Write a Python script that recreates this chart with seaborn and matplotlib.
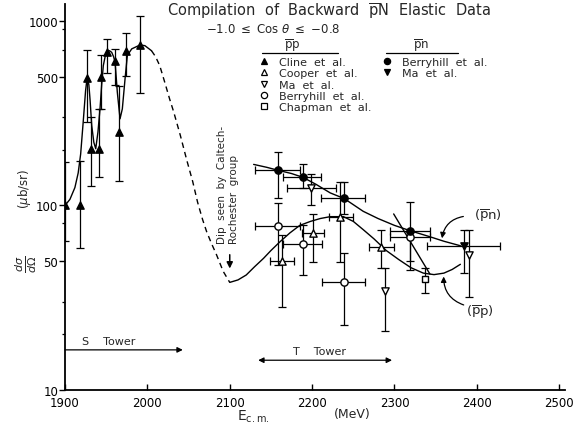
import numpy as np
import pandas as pd
import matplotlib
matplotlib.use("Agg")
import matplotlib.pyplot as plt
import seaborn as sns
from matplotlib.lines import Line2D
from matplotlib.ticker import FixedLocator, NullFormatter, FixedFormatter

# ---------------- data ----------------
nan = np.nan
# Cline et al. (pbar p, filled up-triangle)
cline_x = [1900, 1918, 1927, 1931.6, 1941, 1943.7, 1951.4, 1960.8, 1965.6, 1973.7, 1991]
cline_y = [100, 100, 492, 203, 203, 500, 682, 610, 251, 690, 741]
cline_lo = [64, 59, 285, 127, 142, 334, 523, 451, 135, 506, 408]
cline_hi = [173, 175, 692, 302, 334, 655, 800, 706, 446, 861, 1060]

# Cooper et al. (pbar p, open up-triangle)
coop_x = [2164, 2201, 2234, 2284]
coop_y = [50.2, 70.6, 87, 59.8]
coop_lo = [28, 49.6, 49.7, 45.7]
coop_hi = [69, 89.7, 134, 74]
coop_xlo = [2149, 2187.6, 2220, 2268.5]
coop_xhi = [2178, 2213.9, 2249.6, 2299]

# Ma et al. (pbar p, open down-triangle)
mapp_x = [2198.5, 2288.8, 2390]
mapp_y = [124.6, 34.2, 53.8]
mapp_lo = [101, 21, 32]
mapp_hi = [149, 45.7, 74]
mapp_xlo = [2169, nan, nan]
mapp_xhi = [2229, nan, nan]

# Berryhill et al. (pbar p, open circle)
bpp_x = [2158.4, 2188.8, 2239, 2319.2]
bpp_y = [77.3, 62, 38.4, 67.7]
bpp_lo = [47.5, 42, 22.5, 50]
bpp_hi = [103.5, 78, 55, 72]
bpp_xlo = [2131, 2164.5, 2211.7, 2295]
bpp_xhi = [2185.5, 2211.7, 2264.5, 2342.6]

# Chapman et al. (pbar p, open square)
chap_x = [2336.6]
chap_y = [39.8]
chap_lo = [33.4]
chap_hi = [45.7]

# Berryhill et al. (pbar n, filled circle)
bpn_x = [2159, 2189, 2239, 2319]
bpn_y = [155, 143, 110, 72.6]
bpn_lo = [110, 125, 90, 44.7]
bpn_hi = [195, 167, 134, 105]
bpn_xlo = [2131, 2164.5, 2211, 2295]
bpn_xhi = [2185, 2211, 2264.5, 2342.6]

# Ma et al. (pbar n, filled down-triangle)
mapn_x = [2384]
mapn_y = [60]
mapn_lo = [42.9]
mapn_hi = [73.5]
mapn_xlo = [2340]
mapn_xhi = [2428]

# hand-drawn curves
low_x = [1900, 1906, 1912, 1916, 1919, 1922, 1925, 1927, 1929, 1930.5, 1932.4, 1935, 1937.3, 1940,
         1942.5, 1944.5, 1946.5, 1949, 1951.4, 1954, 1956.7, 1959, 1960.8, 1963.5, 1966.8, 1969.6,
         1972.9, 1975.7, 1981, 1991, 1997, 2005]
low_y = [100, 108, 125, 150, 190, 280, 420, 497, 450, 370, 272, 220, 203, 250,
         334, 450, 573, 650, 682, 690, 676, 640, 598, 412, 295, 334,
         486, 651, 706, 741, 735, 690]
dash_x = [2005, 2010, 2015, 2021, 2027, 2032, 2040, 2048, 2055, 2061, 2067, 2072, 2078, 2084, 2092, 2100]
dash_y = [690, 640, 573, 467, 378, 321, 240, 175, 135, 104, 84, 72, 62, 54, 44, 38.3]
pp_x = [2100, 2110, 2120, 2130, 2141, 2150, 2161, 2173, 2185, 2198, 2210, 2222, 2238, 2250,
        2262, 2275, 2290, 2305, 2320, 2335, 2348, 2360, 2370, 2380]
pp_y = [38.3, 39.5, 42, 46.5, 51.7, 57, 63.6, 71, 78, 82, 85, 87, 87, 82,
        74, 66, 57, 51, 46, 43, 42.2, 43, 45, 48]
pn_x = [2129, 2145, 2159, 2175, 2189, 2205, 2222, 2239, 2262, 2280, 2300, 2319, 2343, 2360, 2380]
pn_y = [167, 161, 155, 149, 142, 130, 117, 109, 93, 85, 78, 73, 67.7, 64, 60.5]
slant_x = [2299, 2343]
slant_y = [90, 42.5]

yticks_major = [10, 50, 100, 500, 1000]
yticks_minor = [20, 30, 80, 200, 300, 700, 900]
xticks = [1900, 2000, 2100, 2200, 2300, 2400, 2500]

# ---------------- styling ----------------
sns.set_theme(style="ticks")
plt.rcParams["font.family"] = ["DejaVu Sans"]
plt.rcParams["mathtext.fontset"] = "dejavusans"

W, H = 578, 427
fig = plt.figure(figsize=(W / 100, H / 100), dpi=100)
fig.patch.set_facecolor("white")
ax = fig.add_axes([65 / W, 1 - 391 / H, 500 / W, 386 / H])
ax.set_facecolor("white")

ax.set_yscale("log")
ax.set_xlim(1900, 2507)
ax.set_ylim(10, 1236)

def curve(xs, ys):
    df = pd.DataFrame({"E": xs, "v": ys})
    sns.lineplot(data=df, x="E", y="v", ax=ax, color="black", lw=1.0, sort=False,
                 estimator=None, legend=False)
    return ax.lines[-1]

curve(low_x, low_y)
curve(pp_x, pp_y)
curve(pn_x, pn_y)
curve(dash_x, dash_y).set_dashes([4, 3])
curve(slant_x, slant_y)

def points(xs, ys, lo, hi, marker, filled, xlo=None, xhi=None, ms=5):
    for i in range(len(xs)):
        yerr = [[ys[i] - lo[i]], [hi[i] - ys[i]]]
        xerr = None
        if xlo is not None and not np.isnan(xlo[i]):
            xerr = [[xs[i] - xlo[i]], [xhi[i] - xs[i]]]
        ax.errorbar([xs[i]], [ys[i]], yerr=yerr, xerr=xerr, fmt="none", ecolor="black",
                    elinewidth=0.9, capsize=2.8, capthick=0.9, zorder=3)
    ax.scatter(xs, ys, marker=marker, s=ms ** 2 * 1.1, facecolors="black" if filled else "white",
               edgecolors="black", linewidths=1.0, zorder=4)

points(cline_x, cline_y, cline_lo, cline_hi, "^", True)
points(coop_x, coop_y, coop_lo, coop_hi, "^", False, coop_xlo, coop_xhi)
points(mapp_x, mapp_y, mapp_lo, mapp_hi, "v", False, mapp_xlo, mapp_xhi)
points(bpp_x, bpp_y, bpp_lo, bpp_hi, "o", False, bpp_xlo, bpp_xhi)
points(chap_x, chap_y, chap_lo, chap_hi, "s", False, ms=4.5)
points(bpn_x, bpn_y, bpn_lo, bpn_hi, "o", True, bpn_xlo, bpn_xhi)
points(mapn_x, mapn_y, mapn_lo, mapn_hi, "v", True, mapn_xlo, mapn_xhi)

# axes / ticks
sns.despine(ax=ax, top=True, right=True)
for s in ["left", "bottom"]:
    ax.spines[s].set_linewidth(1.3)
    ax.spines[s].set_color("black")
ax.yaxis.set_major_locator(FixedLocator(yticks_major))
ax.yaxis.set_major_formatter(FixedFormatter([str(v) for v in yticks_major]))
ax.yaxis.set_minor_locator(FixedLocator(yticks_minor))
ax.yaxis.set_minor_formatter(NullFormatter())
ax.set_xticks(xticks)
ax.set_xticklabels([str(v) for v in xticks])
ax.tick_params(axis="y", which="major", direction="out", length=4, width=1, labelsize=8.5, pad=1, colors="black")
ax.tick_params(axis="y", which="minor", direction="out", length=2.5, width=0.9, colors="black")
ax.tick_params(axis="x", which="major", direction="in", length=4, width=1, labelsize=8.5, pad=4, colors="black")
ax.set_xlabel("")
ax.set_ylabel("")

def fx(px):
    return px / W

def fy(py):
    return 1 - py / H

# titles
fig.text(fx(329), fy(12), r"Compilation  of  Backward  $\overline{\mathrm{p}}$N  Elastic  Data",
         ha="center", va="center", fontsize=10.5)
fig.text(fx(273), fy(29.5), r"$-$1.0 $\leq$ Cos $\theta$ $\leq$ $-$0.8", ha="center", va="center", fontsize=8.5)

# axis labels
fig.text(fx(253), fy(417), r"E$_{\mathrm{c.m.}}$", ha="center", va="center", fontsize=10)
fig.text(fx(352), fy(415), "(MeV)", ha="center", va="center", fontsize=9)
fig.text(fx(25), fy(189), r"($\mu$b/sr)", ha="center", va="center", rotation=90, fontsize=8.5)
fig.text(fx(26), fy(264), r"$\frac{d\sigma}{d\Omega}$", ha="center", va="center", rotation=90, fontsize=11.5)

# legend headers with underline
fig.text(fx(292), fy(46), r"$\overline{\mathrm{p}}$p", ha="center", va="center", fontsize=8.5)
fig.text(fx(421), fy(46), r"$\overline{\mathrm{p}}$n", ha="center", va="center", fontsize=8.5)
fig.add_artist(Line2D([fx(262), fx(338)], [fy(54), fy(54)], color="black", lw=0.9))
fig.add_artist(Line2D([fx(386), fx(458)], [fy(54), fy(54)], color="black", lw=0.9))

def proxy(marker, filled, ms=4.5):
    return Line2D([], [], ls="none", marker=marker, ms=ms, mfc="black" if filled else "white",
                  mec="black", mew=0.9)

h_pp = [proxy("^", True), proxy("^", False), proxy("v", False), proxy("o", False), proxy("s", False, 4)]
l_pp = ["Cline  et  al.", "Cooper  et  al.", "Ma  et  al.", "Berryhill  et  al.", "Chapman  et  al."]
h_pn = [proxy("o", True), proxy("v", True)]
l_pn = ["Berryhill  et  al.", "Ma  et  al."]

leg1 = ax.legend(h_pp, l_pp, loc="upper left", bbox_to_anchor=(fx(260), fy(58)),
                 bbox_transform=fig.transFigure, frameon=False, fontsize=8, handlelength=0.8,
                 handletextpad=0.9, labelspacing=0.12, borderpad=0, borderaxespad=0)
ax.add_artist(leg1)
leg2 = ax.legend(h_pn, l_pn, loc="upper left", bbox_to_anchor=(fx(383), fy(58)),
                 bbox_transform=fig.transFigure, frameon=False, fontsize=8, handlelength=0.8,
                 handletextpad=0.9, labelspacing=0.12, borderpad=0, borderaxespad=0)

# annotations
ax.text(2098, 62.3, "Dip  seen  by  Caltech-\nRochester  group", rotation=90, ha="center",
        va="bottom", multialignment="left", fontsize=7.5, linespacing=1.25)
ax.annotate("", xy=(2100, 44), xytext=(2100, 56),
            arrowprops=dict(arrowstyle="-|>", color="black", lw=1.1, mutation_scale=9))
ax.annotate("", xy=(2043, 16.5), xytext=(1900, 16.5),
            arrowprops=dict(arrowstyle="-|>", color="black", lw=0.9, mutation_scale=8,
                            shrinkA=0, shrinkB=0))
ax.text(1953, 17.3, "S    Tower", ha="center", va="bottom", fontsize=8)
ax.annotate("", xy=(2297, 14.5), xytext=(2134.5, 14.5),
            arrowprops=dict(arrowstyle="<|-|>", color="black", lw=0.9, mutation_scale=8,
                            shrinkA=0, shrinkB=0))
ax.text(2209, 15.2, "T    Tower", ha="center", va="bottom", fontsize=8)

ax.text(2414, 88.7, r"($\overline{\mathrm{p}}$n)", ha="center", va="center", fontsize=9.5)
ax.annotate("", xy=(2357.7, 66.4), xytext=(2383.6, 87.2),
            arrowprops=dict(arrowstyle="-|>", color="black", lw=0.9, mutation_scale=8,
                            connectionstyle="arc3,rad=0.35", shrinkA=0, shrinkB=0))
ax.text(2404, 26.7, r"($\overline{\mathrm{p}}$p)", ha="center", va="center", fontsize=9.5)
ax.annotate("", xy=(2359.7, 41.2), xytext=(2384, 28.9),
            arrowprops=dict(arrowstyle="-|>", color="black", lw=0.9, mutation_scale=8,
                            connectionstyle="arc3,rad=-0.35", shrinkA=0, shrinkB=0))

fig.savefig("out.png", dpi=100, facecolor="white")
